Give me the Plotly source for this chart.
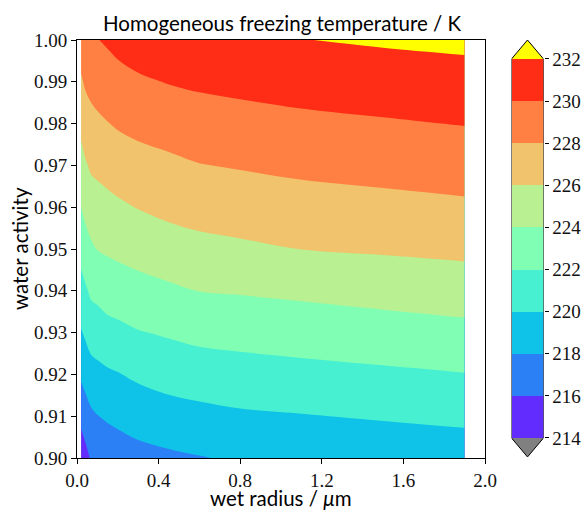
import plotly.graph_objects as go

# ---- data ----
wet_radius = [0.02, 0.04, 0.07, 0.1, 0.15, 0.2, 0.3, 0.45, 0.6, 0.8, 1.1, 1.5, 1.9]
water_activity = [0.90, 0.91, 0.92, 0.93, 0.94, 0.95, 0.96, 0.97, 0.98, 0.99, 1.00]
# homogeneous freezing temperature (K), rows = water activity, cols = wet radius
t_aw090 = [214.70, 215.33, 216.22, 216.45, 216.75, 216.98, 217.37, 217.66, 217.91, 218.23, 218.44, 218.67, 218.91]
t_aw091 = [216.55, 217.05, 217.67, 217.95, 218.24, 218.46, 218.83, 219.22, 219.46, 219.73, 219.91, 220.17, 220.42]
t_aw092 = [218.31, 218.71, 219.26, 219.48, 219.73, 219.91, 220.32, 220.74, 220.99, 221.20, 221.42, 221.68, 221.94]
t_aw093 = [219.85, 220.27, 220.85, 221.00, 221.37, 221.53, 221.90, 222.21, 222.52, 222.67, 222.89, 223.16, 223.45]
t_aw094 = [221.29, 221.71, 222.34, 222.52, 222.87, 223.03, 223.33, 223.68, 224.03, 224.15, 224.37, 224.69, 224.98]
t_aw095 = [222.67, 223.14, 223.72, 224.05, 224.25, 224.42, 224.72, 225.15, 225.46, 225.68, 226.02, 226.22, 226.43]
t_aw096 = [224.00, 224.51, 225.03, 225.23, 225.47, 225.69, 226.07, 226.48, 226.74, 226.94, 227.22, 227.45, 227.69]
t_aw097 = [225.25, 225.77, 226.28, 226.43, 226.70, 226.96, 227.29, 227.61, 227.94, 228.13, 228.41, 228.65, 228.89]
t_aw098 = [226.50, 227.01, 227.42, 227.65, 227.94, 228.20, 228.52, 228.83, 229.11, 229.30, 229.57, 229.82, 230.07]
t_aw099 = [227.75, 228.24, 228.58, 228.81, 229.10, 229.38, 229.74, 230.08, 230.30, 230.50, 230.76, 231.02, 231.25]
t_aw100 = [229.00, 229.41, 229.76, 229.94, 230.24, 230.54, 230.93, 231.28, 231.56, 231.75, 231.96, 232.22, 232.42]

levels = [214, 216, 218, 220, 222, 224, 226, 228, 230, 232]
band_colors = ["#632cfe", "#2b80f6", "#0ec3e7", "#47f0d1", "#80ffb4",
               "#b8f092", "#f1c36c", "#ff8042", "#ff2c16"]
under_color = "#808080"
over_color = "#ffff00"

x_ticks = [0.0, 0.4, 0.8, 1.2, 1.6, 2.0]
y_ticks = [0.90, 0.91, 0.92, 0.93, 0.94, 0.95, 0.96, 0.97, 0.98, 0.99, 1.00]

# ---- figure ----
z = [t_aw090, t_aw091, t_aw092, t_aw093, t_aw094, t_aw095,
     t_aw096, t_aw097, t_aw098, t_aw099, t_aw100]

all_colors = [under_color] + band_colors + [over_color]
n = len(all_colors)
step = levels[1] - levels[0]
# plotly maps the fill colorscale over [start - step/2, end + step/2]
colorscale = []
for k, c in enumerate(all_colors):
    a = max(0.0, (k - 0.5) / (n - 1))
    b = min(1.0, (k + 0.5) / (n - 1))
    colorscale.append([a, c])
    colorscale.append([b, c])

SANS = "Lato"
TICKFONT = dict(family="Liberation Serif", size=19, color="#111")

fig = go.Figure()
fig.add_trace(go.Contour(
    x=wet_radius, y=water_activity, z=z,
    autocontour=False,
    contours=dict(start=levels[0], end=levels[-1], size=step,
                  coloring="fill", showlines=False),
    colorscale=colorscale, showscale=False,
    line=dict(width=0),
    xaxis="x", yaxis="y", hoverinfo="skip",
))

# colorbar drawn as stacked bars with extension triangles
fig.add_trace(go.Bar(
    x=[0] * len(band_colors),
    y=[levels[i + 1] - levels[i] for i in range(len(band_colors))],
    base=levels[:-1],
    width=1.0,
    marker=dict(color=band_colors, line=dict(width=0)),
    xaxis="x2", yaxis="y2", showlegend=False, hoverinfo="skip",
))
ext = 0.9
fig.add_trace(go.Scatter(
    x=[-0.5, 0.5, 0.0, -0.5], y=[levels[-1], levels[-1], levels[-1] + ext, levels[-1]],
    fill="toself", fillcolor=over_color, mode="lines", line=dict(width=0),
    xaxis="x2", yaxis="y2", showlegend=False, hoverinfo="skip",
))
fig.add_trace(go.Scatter(
    x=[-0.5, 0.5, 0.0, -0.5], y=[levels[0], levels[0], levels[0] - ext, levels[0]],
    fill="toself", fillcolor=under_color, mode="lines", line=dict(width=0),
    xaxis="x2", yaxis="y2", showlegend=False, hoverinfo="skip",
))
fig.add_trace(go.Scatter(
    x=[-0.5, 0.0, 0.5, 0.5, 0.0, -0.5, -0.5],
    y=[levels[0], levels[0] - ext, levels[0], levels[-1], levels[-1] + ext, levels[-1], levels[0]],
    mode="lines", line=dict(color="black", width=1),
    xaxis="x2", yaxis="y2", showlegend=False, hoverinfo="skip",
))

L, R, T, B = 77, 30, 40, 55
W, H = 581, 513
pw = W - L - R
ph = H - T - B

def px_x(px):
    return (px - L) / pw

def px_y(py):
    return (H - B - py) / ph

fig.update_layout(
    width=W, height=H,
    margin=dict(l=L, r=R, t=T, b=B, pad=0),
    paper_bgcolor="white", plot_bgcolor="white",
    showlegend=False,
    xaxis=dict(domain=[0, px_x(485)], range=[0, 2.0], tickvals=x_ticks,
               ticktext=["%.1f" % v for v in x_ticks],
               showline=True, mirror=True, linecolor="black", linewidth=1,
               ticks="outside", ticklen=5, tickcolor="black", showgrid=False,
               zeroline=False, tickfont=TICKFONT, automargin=False),
    yaxis=dict(domain=[0, 1], range=[0.90, 1.00], tickvals=y_ticks,
               ticktext=["%.2f" % v for v in y_ticks],
               showline=True, mirror=True, linecolor="black", linewidth=1,
               ticks="outside", ticklen=5, tickcolor="black", showgrid=False,
               zeroline=False, tickfont=TICKFONT, automargin=False),
    xaxis2=dict(domain=[px_x(511.5), px_x(543.5)], range=[-0.5, 0.5], visible=False,
                anchor="y2", fixedrange=True),
    yaxis2=dict(domain=[0, 1], range=[levels[0] - 0.95, levels[-1] + 0.9], anchor="x2",
                side="right", tickvals=levels, ticktext=[str(v) for v in levels],
                ticks="outside", ticklen=4, tickcolor="black", showgrid=False,
                zeroline=False, showline=False,
                tickfont=TICKFONT, automargin=False),
    bargap=0,
    annotations=[
        dict(text="Homogeneous freezing temperature / K", xref="paper", yref="paper",
             x=px_x(282), y=px_y(23), xanchor="center", yanchor="middle",
             showarrow=False, font=dict(family=SANS, size=20.5, color="black")),
        dict(text="wet radius / <i>μ</i>m", xref="paper", yref="paper",
             x=px_x(281), y=px_y(498), xanchor="center", yanchor="middle",
             showarrow=False, font=dict(family=SANS, size=20.5, color="black")),
        dict(text="water activity", xref="paper", yref="paper",
             x=px_x(20), y=px_y(249), xanchor="center", yanchor="middle",
             textangle=-90, showarrow=False,
             font=dict(family=SANS, size=20.5, color="black")),
    ],
)

fig.write_html("out.html", config={"displayModeBar": False},
               post_script="document.body.style.margin='0px';")
